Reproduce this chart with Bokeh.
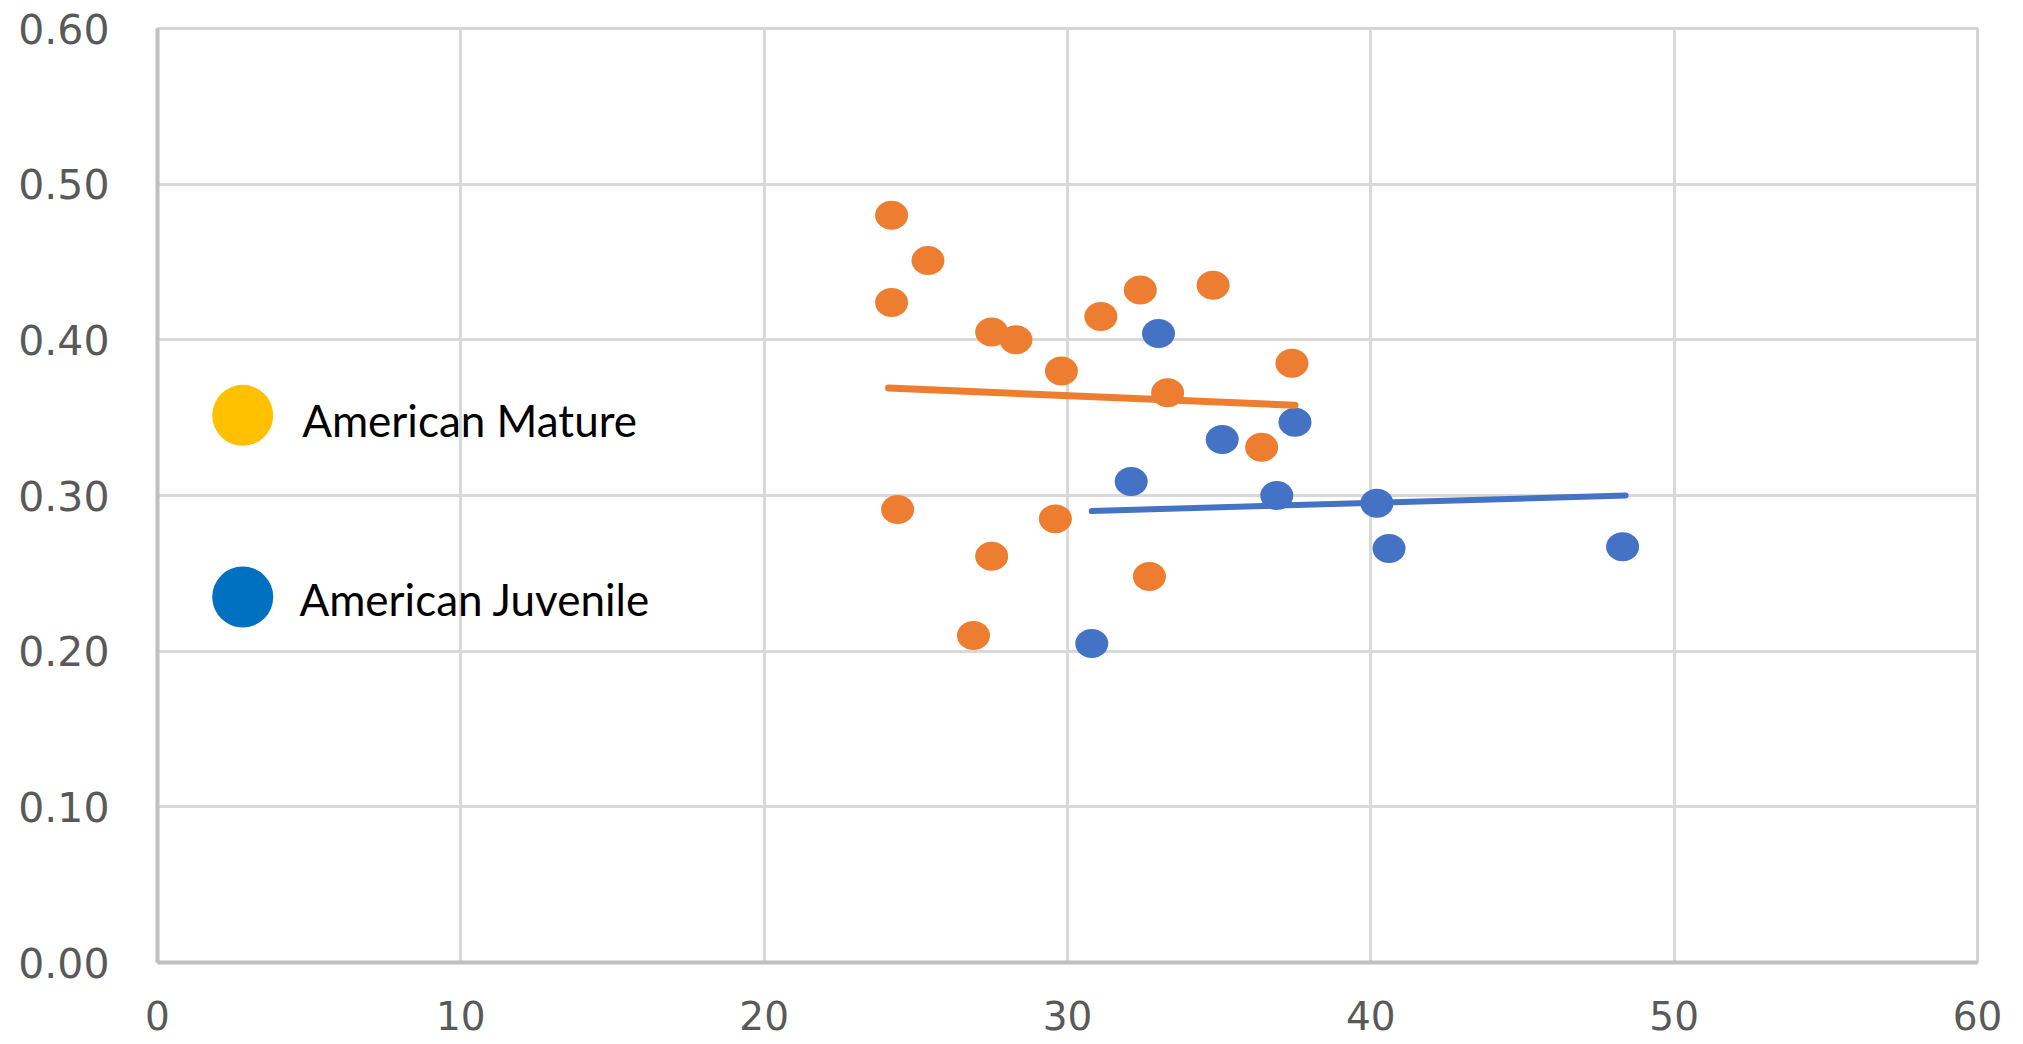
from bokeh.plotting import figure
from bokeh.models import Range1d, FixedTicker
from bokeh.core.properties import value
from bokeh.embed import file_html
from bokeh.resources import INLINE

# Mature specimens
mature_x = [24.2, 25.4, 24.2, 27.5, 28.3, 29.8, 31.1, 32.4, 34.8, 33.3, 37.4, 36.4,
            24.4, 29.6, 27.5, 32.7, 26.9]
mature_y = [0.480, 0.451, 0.424, 0.405, 0.400, 0.380, 0.415, 0.432, 0.435, 0.366, 0.385, 0.331,
            0.291, 0.285, 0.261, 0.248, 0.210]

# Juvenile specimens
juvenile_x = [33.0, 35.1, 37.5, 32.1, 36.9, 30.8, 40.2, 40.6, 48.3]
juvenile_y = [0.404, 0.336, 0.347, 0.309, 0.300, 0.205, 0.295, 0.266, 0.267]

# Linear trend lines (end points)
mature_trend_x = [24.1, 37.5]
mature_trend_y = [0.369, 0.358]
juvenile_trend_x = [30.8, 48.4]
juvenile_trend_y = [0.290, 0.300]

x_ticks = [0, 10, 20, 30, 40, 50, 60]
x_tick_labels = ["0", "10", "20", "30", "40", "50", "60"]
y_ticks = [0.0, 0.1, 0.2, 0.3, 0.4, 0.5, 0.6]
y_tick_labels = ["0.00", "0.10", "0.20", "0.30", "0.40", "0.50", "0.60"]

legend_names = ["American Mature", "American Juvenile"]
legend_colors = ["#FFC000", "#0070C0"]

ORANGE = "#ED7D31"
BLUE = "#4472C4"

p = figure(
    frame_width=1820, frame_height=934,
    x_range=Range1d(0, 60), y_range=Range1d(0, 0.6),
    output_backend="svg", toolbar_location=None,
    min_border_left=157, min_border_right=46,
    min_border_top=28, min_border_bottom=82,
    background_fill_color="white", border_fill_color="white",
)

p.outline_line_color = "#d4d4d4"
p.outline_line_width = 3

for ax in (p.xaxis[0], p.yaxis[0]):
    ax.major_tick_line_color = None
    ax.minor_tick_line_color = None
    ax.axis_line_color = "#bfbfbf"
    ax.axis_line_width = 4
    ax.major_label_text_font = "DejaVu Sans"
    ax.major_label_text_color = "#595959"

p.yaxis.major_label_text_font_size = "41px"
p.xaxis.major_label_text_font_size = "39px"

p.xaxis.ticker = FixedTicker(ticks=x_ticks)
p.yaxis.ticker = FixedTicker(ticks=y_ticks)
p.xaxis.major_label_overrides = dict(zip(x_ticks, x_tick_labels))
p.yaxis.major_label_overrides = dict(zip(y_ticks, y_tick_labels))
p.xaxis.major_label_standoff = 32
p.yaxis.major_label_standoff = 42

p.xgrid.ticker = FixedTicker(ticks=x_ticks)
p.ygrid.ticker = FixedTicker(ticks=y_ticks)
for g in (p.xgrid[0], p.ygrid[0]):
    g.grid_line_color = "#d9d9d9"
    g.grid_line_width = 3

# points
p.ellipse(x=mature_x, y=mature_y, width=33, height=29,
          width_units="screen", height_units="screen",
          fill_color=ORANGE, line_color=None)
p.ellipse(x=juvenile_x, y=juvenile_y, width=33, height=29,
          width_units="screen", height_units="screen",
          fill_color=BLUE, line_color=None)

# trend lines
p.line(mature_trend_x, mature_trend_y, line_color=ORANGE, line_width=7, line_cap="round")
p.line(juvenile_trend_x, juvenile_trend_y, line_color=BLUE, line_width=6, line_cap="round")

# legend block
legend_mx = [2.81, 2.81]
legend_my = [0.3515, 0.2348]
legend_tx = [4.77, 4.68]
legend_ty = [0.3484, 0.2333]
p.scatter(x=legend_mx, y=legend_my, size=61, marker="circle",
          fill_color=legend_colors, line_color=None)
p.text(x=legend_tx, y=legend_ty, text=legend_names,
       text_font=value("Lato"), text_font_size="44px", text_color="black",
       text_baseline="alphabetic", text_align="left")

open("out.html", "w").write(file_html(p, INLINE))
